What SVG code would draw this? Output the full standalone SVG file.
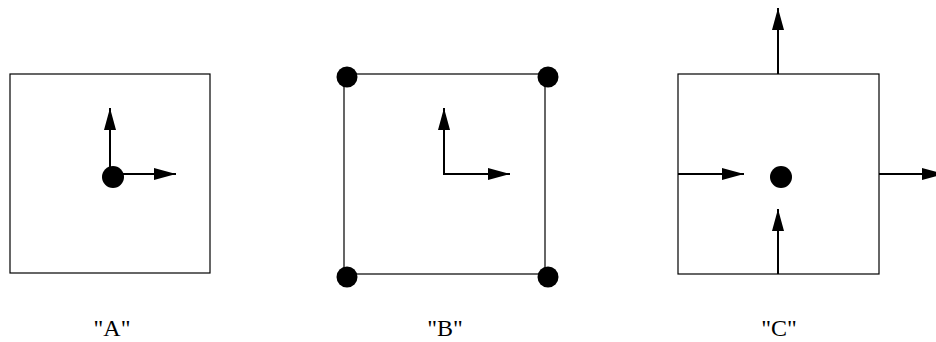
<svg xmlns="http://www.w3.org/2000/svg" width="936" height="342" viewBox="0 0 936 342">
<style>
.box{fill:none;stroke:#000;stroke-width:1.2}
.arr{stroke:#000;stroke-width:2;fill:none;marker-end:url(#ah)}
.dot{fill:#000}
.lbl{font-family:"Liberation Serif","Times New Roman",serif;font-size:24px;fill:#000;text-anchor:middle}
</style>
<defs>
<marker id="ah" viewBox="0 0 22 12" refX="22" refY="6" markerWidth="22" markerHeight="12" markerUnits="userSpaceOnUse" orient="auto">
<path d="M0,0 L22,6 L0,12 Z" fill="#000"/>
</marker>
</defs>
<g id="nodeA">
<rect class="box" x="10" y="74" width="200" height="199"/>
<circle class="dot" cx="113" cy="177" r="11"/>
<text class="lbl" x="112" y="336">"A"</text>
</g>
<g id="nodeB">
<rect class="box" x="344" y="74" width="201" height="200"/>
<circle class="dot" cx="347" cy="77" r="10.5"/>
<circle class="dot" cx="548" cy="77" r="10.5"/>
<circle class="dot" cx="347" cy="277" r="10.5"/>
<circle class="dot" cx="548" cy="277" r="10.5"/>
<text class="lbl" x="445" y="336">"B"</text>
</g>
<g id="nodeC">
<rect class="box" x="678" y="74" width="201" height="200"/>
<circle class="dot" cx="781" cy="177" r="11"/>
<text class="lbl" x="779" y="336">"C"</text>
</g>
<g id="connectors">
<line class="arr" x1="110" y1="177" x2="110" y2="108"/>
<line class="arr" x1="110" y1="174" x2="176" y2="174"/>
<line class="arr" x1="444" y1="175" x2="444" y2="108"/>
<line class="arr" x1="443" y1="174" x2="510" y2="174"/>
<line class="arr" x1="778" y1="74" x2="778" y2="8"/>
<line class="arr" x1="678" y1="174" x2="744" y2="174"/>
<line class="arr" x1="879" y1="174" x2="944" y2="174"/>
<line class="arr" x1="778" y1="274" x2="778" y2="209"/>
</g>
</svg>
